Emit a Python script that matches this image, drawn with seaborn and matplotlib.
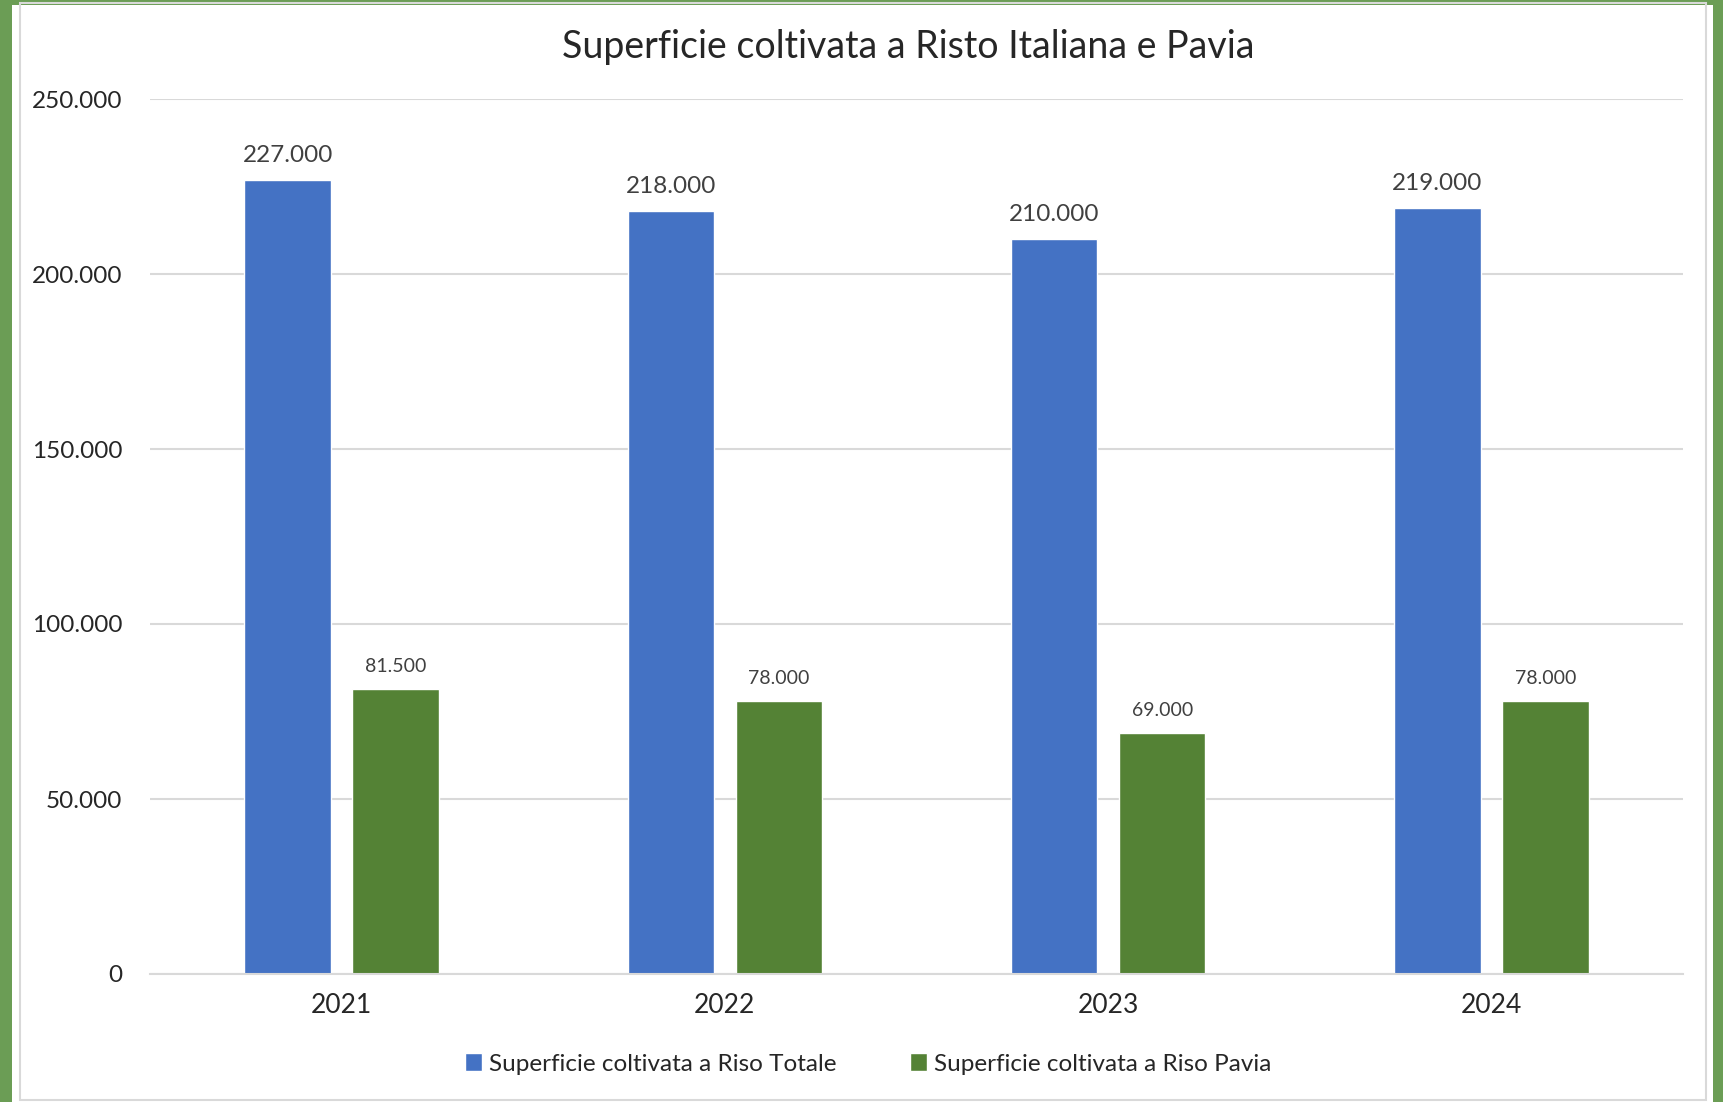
import numpy as np
import pandas as pd
import matplotlib.pyplot as plt
from matplotlib.patches import Rectangle
from matplotlib.ticker import FuncFormatter
import seaborn as sns

# Dati (ettari)
anni = ["2021", "2022", "2023", "2024"]
riso_totale = [227000, 218000, 210000, 219000]
riso_pavia = [81500, 78000, 69000, 78000]
serie = ["Superficie coltivata a Riso Totale", "Superficie coltivata a Riso Pavia"]
colori = ["#4472C4", "#548235"]

df = pd.DataFrame({
    "anno": anni * 2,
    "valore": riso_totale + riso_pavia,
    "serie": [serie[0]] * len(anni) + [serie[1]] * len(anni),
})

sns.set_theme(style="white")
plt.rcParams["font.family"] = ["Lato", "DejaVu Sans"]


def fmt_it(v, pos=None):
    # separatore migliaia all'italiana
    return f"{v:,.0f}".replace(",", ".")


W, H = 1723, 1102
fig = plt.figure(figsize=(W / 100, H / 100), dpi=100)
fig.patch.set_facecolor("#6b9d55")

# pannello bianco del grafico
fig.patches.append(Rectangle((12 / W, 0), (1713 - 12) / W, (H - 5) / H,
                             transform=fig.transFigure, facecolor="white",
                             edgecolor="none", zorder=-10))
fig.patches.append(Rectangle((20 / W, 2 / H), (1706 - 20) / W, (H - 5) / H,
                             transform=fig.transFigure, facecolor="none",
                             edgecolor="#d9d9d9", linewidth=1.5, zorder=-9))

ax = fig.add_axes([150 / W, (H - 974) / H, 1533 / W, 875 / H])
ax.set_facecolor("none")

sns.barplot(data=df, x="anno", y="valore", hue="serie", palette=colori,
            saturation=1, width=0.564, gap=0.2, ax=ax, legend=True)

ax.set_ylim(0, 250000)
ax.set_yticks(np.arange(0, 250001, 50000))
ax.yaxis.set_major_formatter(FuncFormatter(fmt_it))
ax.grid(axis="y", color="#d9d9d9", linewidth=1.5)
ax.set_axisbelow(True)
for s in ["top", "right", "left"]:
    ax.spines[s].set_visible(False)
ax.spines["bottom"].set_color("#d9d9d9")
ax.spines["bottom"].set_linewidth(1.5)
ax.tick_params(axis="both", length=0, colors="#262626")
ax.tick_params(axis="y", labelsize=17.5, pad=20)
ax.tick_params(axis="x", labelsize=19, pad=14)
ax.set_xlabel("")
ax.set_ylabel("")

# etichette dati
ax.bar_label(ax.containers[0], labels=[fmt_it(v) for v in riso_totale],
             padding=10, fontsize=17.5, color="#404040")
ax.bar_label(ax.containers[1], labels=[fmt_it(v) for v in riso_pavia],
             padding=10, fontsize=14, color="#404040")

fig.text(908 / W, 1 - 47 / H, "Superficie coltivata a Risto Italiana e Pavia",
         ha="center", va="center", fontsize=27, color="#262626")

handles, labels = ax.get_legend_handles_labels()
ax.get_legend().remove()
fig.legend(handles, labels, loc="center", bbox_to_anchor=(868 / W, 1 - 1064 / H),
           ncol=2, frameon=False, fontsize=17.5, handlelength=0.7, handleheight=0.7,
           handletextpad=0.3, columnspacing=3.0, labelcolor="#262626")

fig.savefig("out.png", dpi=100, facecolor=fig.get_facecolor())
